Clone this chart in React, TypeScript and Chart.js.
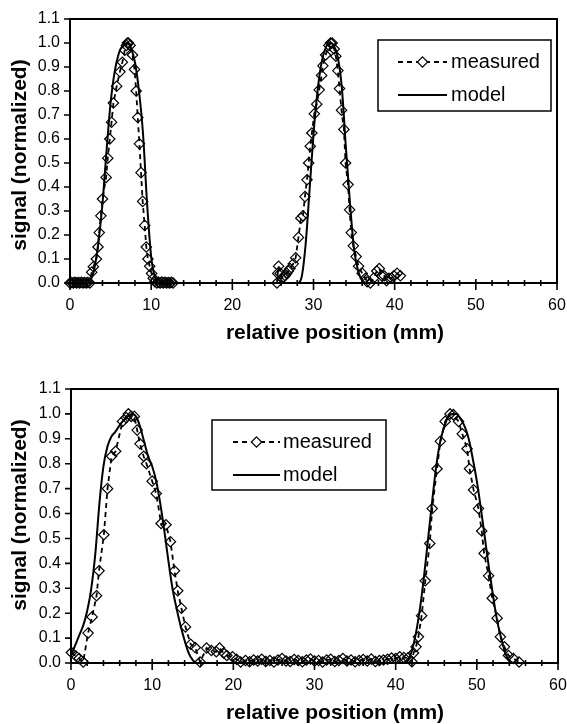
import { useEffect, useRef } from 'react';
import { Chart, registerables } from 'chart.js';

Chart.register(...registerables);

const FONT = '"Liberation Sans", Arial, Helvetica, sans-serif';
const X_TITLE = 'relative position (mm)';
const Y_TITLE = 'signal (normalized)';
const SERIES_LABELS = ['measured', 'model'];
const X_TICKS = [0, 10, 20, 30, 40, 50, 60];
const Y_TICKS = [0, 0.1, 0.2, 0.3, 0.4, 0.5, 0.6, 0.7, 0.8, 0.9, 1.0, 1.1];
const X_MINOR_STEP = 2;

// ---------- top panel ----------
const topMeasuredX = [
  0, 0.2, 0.4, 0.6, 0.8, 1.0, 1.2, 1.4, 1.6, 1.8, 2.0, 2.2,
  2.45, 2.67, 2.88, 3.25, 3.45, 3.6, 3.8, 4.0, 4.45, 4.65, 4.9, 5.12, 5.35, 5.75, 6.15, 6.45, 6.75, 6.95, 7.07, 7.2,
  7.4, 7.7, 7.95, 8.15, 8.35, 8.55, 8.75, 8.95, 9.2, 9.4, 9.6, 9.82, 10.05, 10.25, 10.45,
  10.7, 10.9, 11.1, 11.3, 11.5, 11.7, 11.9, 12.1, 12.3, 12.5, 12.7,
  25.5, 25.6, 25.7, 25.9, 26.1, 26.3, 26.5, 26.7, 26.9, 27.1, 27.5, 27.8, 28.15, 28.45, 28.7, 28.95, 29.2, 29.4, 29.6,
  29.8, 30.1, 30.4, 30.7, 31.0, 31.15, 31.5, 31.9, 32.1, 32.3, 32.55, 32.75, 33.0, 33.2, 33.45, 33.75, 33.95, 34.25,
  34.45, 34.65, 34.9, 35.25, 35.55, 36.0, 36.4, 36.6, 37.0, 37.4, 37.8, 38.1, 38.4, 38.7, 39.0, 39.3, 39.6, 39.9, 40.3, 40.7,
];
const topMeasuredY = [
  0, 0.002, 0, 0.003, 0, 0.002, 0, 0.003, 0, 0.002, 0, 0.002,
  0.0, 0.045, 0.068, 0.10, 0.15, 0.21, 0.28, 0.35, 0.44, 0.52, 0.60, 0.67, 0.75, 0.82, 0.88, 0.92, 0.97, 0.99, 1.0, 1.0,
  0.99, 0.95, 0.89, 0.80, 0.69, 0.58, 0.46, 0.34, 0.24, 0.15, 0.10, 0.07, 0.04, 0.02, 0.005,
  0, 0.003, 0, 0.004, 0, 0.003, 0, 0.002, 0, 0.003, 0,
  0.0, 0.04, 0.07, 0.04, 0.02, 0.025, 0.03, 0.04, 0.05, 0.06, 0.08, 0.105, 0.19, 0.27, 0.28, 0.36, 0.43, 0.50, 0.57,
  0.625, 0.705, 0.745, 0.805, 0.865, 0.905, 0.95, 0.99, 1.0, 1.0, 0.975, 0.945, 0.885, 0.81, 0.72, 0.64, 0.50, 0.41,
  0.305, 0.21, 0.155, 0.11, 0.07, 0.04, 0.02, 0.005, 0.0, 0.02, 0.05, 0.06, 0.03, 0.03, 0.01, 0.02, 0.02, 0.03, 0.04, 0.03,
];
const topModelX = [
  0, 2.0, 2.5, 3.0, 3.5, 4.0, 4.5, 5.0, 5.5, 6.0, 6.5, 7.0, 7.5, 8.0, 8.5, 9.0, 9.5, 10.0, 10.5, 11.0,
  28.0, 28.5, 29.0, 29.5, 30.0, 30.5, 31.0, 31.5, 32.0, 32.5, 33.0, 33.5, 34.0, 34.5, 35.0, 35.5, 36.0, 36.5, 60,
];
const topModelY = [
  0, 0, 0.01, 0.06, 0.17, 0.33, 0.55, 0.75, 0.88, 0.955, 0.99, 1.0, 0.98, 0.92, 0.80, 0.62, 0.33, 0.11, 0.02, 0,
  0, 0.02, 0.15, 0.38, 0.62, 0.80, 0.92, 0.98, 1.0, 0.99, 0.94, 0.81, 0.56, 0.33, 0.14, 0.05, 0.01, 0, 0,
];

// ---------- bottom panel ----------
const bottomMeasuredX = [
  0.05, 0.6, 1.0, 1.5, 2.1, 2.6, 3.15, 3.45, 4.05, 4.5, 5.0, 5.5, 6.35, 6.8, 7.07, 7.4, 7.8, 8.15, 8.5, 8.95, 9.3,
  10.0, 10.5, 11.1, 11.7, 12.25, 12.75, 13.15, 13.6, 14.1, 14.75, 15.3, 15.9, 16.7, 17.3, 17.9, 18.3, 18.8, 19.2,
  19.9, 20.4, 20.9,
  21.5, 22.0, 22.5, 23.0, 23.5, 24.0, 24.5, 25.0, 25.5, 26.0, 26.5, 27.0, 27.5, 28.0, 28.5, 29.0, 29.5, 30.0, 30.5,
  31.0, 31.5, 32.0, 32.5, 33.0, 33.5, 34.0, 34.5, 35.0, 35.5, 36.0, 36.5, 37.0, 37.5, 38.0, 38.5, 39.0, 39.5, 40.0,
  40.5, 41.0, 41.5,
  42.0, 42.2, 42.5, 42.8, 43.2, 43.65, 44.2, 44.5, 45.1, 45.5, 46.1, 46.7, 47.1, 47.75, 48.2, 48.8, 49.1, 49.6, 50.2,
  50.6, 50.9, 51.45, 51.9, 52.5, 52.9, 53.4, 53.9, 54.5, 55.2,
];
const bottomMeasuredY = [
  0.042, 0.028, 0.018, 0.004, 0.12, 0.185, 0.27, 0.37, 0.515, 0.70, 0.83, 0.85, 0.97, 0.985, 1.0, 0.99, 0.99, 0.935,
  0.88, 0.83, 0.80, 0.73, 0.68, 0.56, 0.555, 0.487, 0.37, 0.29, 0.22, 0.145, 0.075, 0.062, 0.004, 0.06, 0.05, 0.045,
  0.06, 0.04, 0.03, 0.025, 0.015, 0.004,
  0.010, 0.005, 0.012, 0.008, 0.015, 0.006, 0.010, 0.004, 0.012, 0.018, 0.008, 0.006, 0.014, 0.010, 0.005, 0.012,
  0.016, 0.008, 0.010, 0.004, 0.012, 0.015, 0.006, 0.010, 0.018, 0.008, 0.012, 0.005, 0.010, 0.014, 0.008, 0.016,
  0.006, 0.010, 0.012, 0.015, 0.020, 0.018, 0.025, 0.022, 0.020,
  0.005, 0.04, 0.065, 0.105, 0.19, 0.33, 0.48, 0.62, 0.78, 0.89, 0.97, 1.0, 0.997, 0.97, 0.92, 0.86, 0.78, 0.695, 0.62,
  0.53, 0.44, 0.35, 0.26, 0.18, 0.105, 0.065, 0.03, 0.018, 0.004,
];
const bottomModelX = [
  0, 0.5, 1.0, 1.5, 2.0, 2.5, 3.0, 3.5, 4.0, 4.5, 5.0, 5.5, 6.0, 6.5, 7.0, 7.5, 8.0, 8.5, 9.0, 9.5, 10.0, 10.5, 11.0,
  11.5, 12.0, 12.5, 13.0, 13.5, 14.0, 14.5, 15.0, 15.5, 41.0, 41.5, 42.0, 42.5, 43.0, 43.5, 44.0, 44.5, 45.0, 45.5,
  46.0, 46.5, 47.0, 47.5, 48.0, 48.5, 49.0, 49.5, 50.0, 50.5, 51.0, 51.5, 52.0, 52.5, 53.0, 53.5, 54.0, 54.5, 58.0,
];
const bottomModelY = [
  0.03, 0.07, 0.11, 0.15, 0.21, 0.30, 0.44, 0.64, 0.79, 0.87, 0.91, 0.93, 0.955, 0.975, 0.99, 1.0, 0.99, 0.95, 0.89,
  0.83, 0.79, 0.73, 0.64, 0.53, 0.41, 0.30, 0.22, 0.15, 0.09, 0.04, 0.012, 0, 0, 0.01, 0.05, 0.12, 0.22, 0.35, 0.50,
  0.65, 0.79, 0.89, 0.95, 0.99, 1.0, 1.0, 0.98, 0.95, 0.90, 0.82, 0.73, 0.62, 0.50, 0.38, 0.27, 0.17, 0.10, 0.04, 0.01,
  0, 0,
];

const toPoints = (xs: number[], ys: number[]) => xs.map((x, i) => ({ x, y: ys[i] }));

const framePlugin = {
  id: 'frame',
  afterDraw(chart: any, _args: any, opts: any) {
    const { ctx, chartArea: a, scales } = chart;
    const xs = scales.x;
    const ys = scales.y;
    ctx.save();
    ctx.setLineDash([]);
    ctx.strokeStyle = '#000';
    ctx.fillStyle = '#000';
    ctx.lineWidth = 2;
    ctx.strokeRect(a.left, a.top, a.right - a.left, a.bottom - a.top);
    ctx.lineWidth = 1.6;
    ctx.beginPath();
    ys.ticks.forEach((t: any) => {
      const y = ys.getPixelForValue(t.value);
      ctx.moveTo(a.left - 6, y);
      ctx.lineTo(a.left, y);
    });
    for (let v = xs.min; v <= xs.max; v += X_MINOR_STEP) {
      const x = xs.getPixelForValue(v);
      const major = X_TICKS.includes(v);
      ctx.moveTo(x, a.bottom - (major ? 4 : 3));
      ctx.lineTo(x, a.bottom + (major ? 7 : 3));
    }
    ctx.stroke();

    ctx.font = `bold ${opts.titleSize}px ${FONT}`;
    ctx.textAlign = 'center';
    ctx.textBaseline = 'middle';
    ctx.fillText(X_TITLE, opts.xTitle.x, opts.xTitle.y);
    ctx.save();
    ctx.translate(opts.yTitle.x, opts.yTitle.y);
    ctx.rotate(-Math.PI / 2);
    ctx.fillText(Y_TITLE, 0, 0);
    ctx.restore();

    const b = opts.legend;
    ctx.fillStyle = '#fff';
    ctx.fillRect(b.x, b.y, b.w, b.h);
    ctx.lineWidth = 1.5;
    ctx.strokeRect(b.x, b.y, b.w, b.h);
    chart.data.datasets.forEach((ds: any, i: number) => {
      const y = b.y + b.rows[i];
      ctx.beginPath();
      ctx.setLineDash(ds.borderDash || []);
      ctx.lineWidth = ds.borderWidth;
      ctx.moveTo(b.x + b.lineStart, y);
      ctx.lineTo(b.x + b.lineEnd, y);
      ctx.stroke();
      ctx.setLineDash([]);
      if (ds.pointRadius > 0) {
        const cx = b.x + (b.lineStart + b.lineEnd) / 2;
        const r = ds.pointRadius;
        ctx.beginPath();
        ctx.moveTo(cx, y - r);
        ctx.lineTo(cx + r, y);
        ctx.lineTo(cx, y + r);
        ctx.lineTo(cx - r, y);
        ctx.closePath();
        ctx.fillStyle = '#fff';
        ctx.fill();
        ctx.lineWidth = ds.pointBorderWidth;
        ctx.stroke();
      }
      ctx.fillStyle = '#000';
      ctx.font = `${opts.legendSize}px ${FONT}`;
      ctx.textAlign = 'left';
      ctx.textBaseline = 'middle';
      ctx.fillText(ds.label, b.x + b.textX, y);
    });
    ctx.restore();
  },
};

function makeConfig(measured: any[], model: any[], p: any): any {
  return {
    type: 'scatter',
    data: {
      datasets: [
        {
          label: SERIES_LABELS[0],
          data: measured,
          showLine: true,
          borderColor: '#000',
          borderWidth: 1.8,
          borderDash: [5, 4],
          tension: 0,
          pointStyle: 'rectRot',
          pointRadius: 5.2,
          pointBorderWidth: 1.2,
          pointBorderColor: '#000',
          pointBackgroundColor: 'rgba(0,0,0,0)',
          clip: false,
        },
        {
          label: SERIES_LABELS[1],
          data: model,
          showLine: true,
          borderColor: '#000',
          borderWidth: 2,
          pointRadius: 0,
          cubicInterpolationMode: 'monotone',
          clip: false,
        },
      ],
    },
    options: {
      animation: false,
      responsive: false,
      events: [],
      layout: { padding: p.padding },
      plugins: {
        legend: { display: false },
        tooltip: { enabled: false },
        frame: p.frame,
      },
      scales: {
        x: {
          type: 'linear',
          min: 0,
          max: 60,
          afterBuildTicks: (s: any) => {
            s.ticks = X_TICKS.map((v) => ({ value: v }));
          },
          afterFit: (s: any) => {
            s.height = p.xHeight;
            s.paddingLeft = 0;
            s.paddingRight = 0;
          },
          grid: { display: false, drawTicks: false },
          border: { display: false },
          ticks: {
            padding: 13,
            color: '#000',
            font: { size: 16, family: FONT },
            maxRotation: 0,
            autoSkip: false,
            callback: (v: any) => String(v),
          },
        },
        y: {
          type: 'linear',
          min: 0,
          max: 1.1,
          afterBuildTicks: (s: any) => {
            s.ticks = Y_TICKS.map((v) => ({ value: v }));
          },
          afterFit: (s: any) => {
            s.width = p.yWidth;
            s.paddingTop = 0;
            s.paddingBottom = 0;
          },
          grid: { display: false, drawTicks: false },
          border: { display: false },
          ticks: {
            padding: 10,
            color: '#000',
            font: { size: 16, family: FONT },
            autoSkip: false,
            callback: (v: any) => Number(v).toFixed(1),
          },
        },
      },
    },
    plugins: [framePlugin],
  };
}

export default function App() {
  const topRef = useRef<HTMLCanvasElement>(null);
  const botRef = useRef<HTMLCanvasElement>(null);

  useEffect(() => {
    Chart.defaults.font.family = FONT;
    const top = new Chart(
      topRef.current as HTMLCanvasElement,
      makeConfig(toPoints(topMeasuredX, topMeasuredY), toPoints(topModelX, topModelY), {
        padding: { top: 19, right: 10, left: 0, bottom: 0 },
        xHeight: 79,
        yWidth: 70,
        frame: {
          titleSize: 21,
          legendSize: 20,
          xTitle: { x: 335, y: 333 },
          yTitle: { x: 20, y: 155 },
          legend: { x: 378, y: 40, w: 173, h: 71, rows: [22, 55], lineStart: 20, lineEnd: 69, textX: 73 },
        },
      })
    );
    const bottom = new Chart(
      botRef.current as HTMLCanvasElement,
      makeConfig(toPoints(bottomMeasuredX, bottomMeasuredY), toPoints(bottomModelX, bottomModelY), {
        padding: { top: 27, right: 9, left: 0, bottom: 0 },
        xHeight: 61,
        yWidth: 71,
        frame: {
          titleSize: 21,
          legendSize: 20,
          xTitle: { x: 335, y: 351 },
          yTitle: { x: 20, y: 153 },
          legend: { x: 212, y: 58, w: 174, h: 70, rows: [22, 55], lineStart: 21, lineEnd: 68, textX: 71 },
        },
      })
    );
    return () => {
      top.destroy();
      bottom.destroy();
    };
  }, []);

  return (
    <div style={{ position: 'absolute', left: 0, top: 0, width: 567, height: 724, background: '#fff' }}>
      <canvas ref={topRef} width={567} height={362} style={{ display: 'block' }} />
      <canvas ref={botRef} width={567} height={362} style={{ display: 'block' }} />
    </div>
  );
}
